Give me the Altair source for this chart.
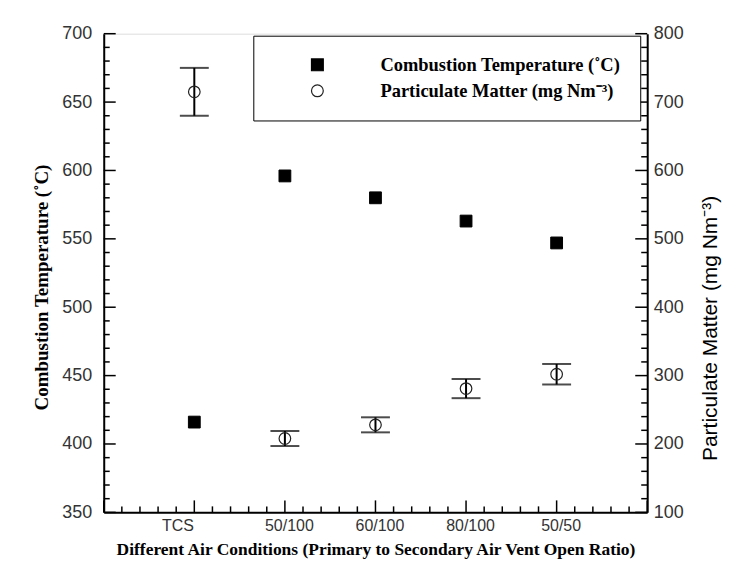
import json
import altair as alt
import pandas as pd

# ---- data ----
categories = ["TCS", "50/100", "60/100", "80/100", "50/50"]
positions = [1, 2, 3, 4, 5]
temperature = [416, 596, 580, 563, 547]          # deg C (left axis)
pm_mean = [715, 208, 228, 281, 302]              # mg Nm-3 (right axis)
pm_err = [35, 11, 11, 14, 15]

T_LABEL = "Combustion Temperature (˚C)"
PM_LABEL = "Particulate Matter (mg Nm⁻³)"
X_TITLE = "Different Air Conditions (Primary to Secondary Air Vent Open Ratio)"

temp_major = [350, 400, 450, 500, 550, 600, 650, 700]
temp_minor = [v for v in range(350, 701, 10) if v % 50]
pm_major = [100, 200, 300, 400, 500, 600, 700, 800]
pm_minor = [v for v in range(100, 801, 20) if v % 100]
x_major = [0, 1, 2, 3, 4, 5, 6]
x_minor = [i / 5 for i in range(0, 31) if i % 5]

W, H = 545, 480
MAJ, MIN = 12, 6

temp_df = pd.DataFrame({"pos": positions, "temp": temperature, "series": T_LABEL})
pm_df = pd.DataFrame({
    "pos": positions, "pm": pm_mean,
    "lo": [m - e for m, e in zip(pm_mean, pm_err)],
    "hi": [m + e for m, e in zip(pm_mean, pm_err)],
    "series": PM_LABEL,
})
caps_df = pd.DataFrame({
    "pos": positions + positions,
    "pm": [m - e for m, e in zip(pm_mean, pm_err)] + [m + e for m, e in zip(pm_mean, pm_err)],
})

label_arr = json.dumps([""] + categories + [""])

x_axis = alt.Axis(
    values=positions, labelExpr=f"{label_arr}[datum.value]", ticks=False, grid=False,
    title=X_TITLE, titleFont="Liberation Serif", titleFontWeight="bold", titleFontSize=17.5,
    titleColor="black", titlePadding=7,
    labelFont="Liberation Sans", labelFontSize=16, labelColor="#333", labelPadding=5,
    labelOffset={"condition": {"test": "datum.value == 1", "value": -17}, "value": 4},
    domainColor="black", domainWidth=2,
)
x_scale = alt.Scale(domain=[0, 6], nice=False, zero=False)


def X(field="pos"):
    return alt.X(f"{field}:Q", scale=x_scale, axis=x_axis)


temp_axis = alt.Axis(
    orient="left", values=temp_major, ticks=False, grid=False, title=T_LABEL,
    titleFont="Liberation Serif", titleFontWeight="bold", titleFontSize=19, titleColor="black",
    titleAngle=270, titleBaseline="middle", titleX=-62, titleY=254,
    labelFont="Liberation Sans", labelFontSize=18, labelColor="#333",
    labelPadding=12, domainColor="black", domainWidth=2,
)
temp_scale = alt.Scale(domain=[350, 700], nice=False, zero=False)


def YT(field="temp"):
    return alt.Y(f"{field}:Q", scale=temp_scale, axis=temp_axis)


pm_axis = alt.Axis(
    orient="right", values=pm_major, ticks=False, grid=False, title=PM_LABEL,
    titleFont="Liberation Sans", titleFontWeight="normal", titleFontSize=21, titleColor="black",
    titleAngle=270, titleBaseline="middle", titleX=63, titleY=295,
    labelFont="Liberation Sans", labelFontSize=18,
    labelColor="#333", labelPadding=6, domainColor="black", domainWidth=2,
)
pm_scale = alt.Scale(domain=[100, 800], nice=False, zero=False)


def YP(field="pm"):
    return alt.Y(f"{field}:Q", scale=pm_scale, axis=pm_axis)


legend = alt.Legend(
    title=None, orient="none", legendX=150, legendY=2, direction="vertical",
    fillColor="white", strokeColor="black", padding=20,
    labelFont="Liberation Serif", labelFontWeight="bold", labelFontSize=18.5, labelColor="black",
    symbolOffset=35, labelOffset=54, rowPadding=7, symbolSize=140, symbolStrokeWidth=1.2,
    labelLimit=400,
)
series_dom = [T_LABEL, PM_LABEL]
shape_enc = alt.Shape("series:N", scale=alt.Scale(domain=series_dom, range=["square", "circle"]), legend=legend)
fill_enc = alt.Fill("series:N", scale=alt.Scale(domain=series_dom, range=["black", "transparent"]), legend=legend)
stroke_enc = alt.Stroke("series:N", scale=alt.Scale(domain=series_dom, range=["black", "#222"]), legend=legend)

# ---- temperature (left) layer ----
temp_pts = alt.Chart(temp_df).mark_point(size=140, filled=False, strokeWidth=1, opacity=1).encode(
    x=X(), y=YT(), shape=shape_enc, fill=fill_enc, stroke=stroke_enc
)

def rule_layer(df, enc):
    return alt.Chart(df).mark_rule(color="black", strokeWidth=1.5).encode(**enc)

lt_major = rule_layer(pd.DataFrame({"temp": temp_major}), dict(y=YT(), x=alt.value(0), x2=alt.value(MAJ)))
lt_minor = rule_layer(pd.DataFrame({"temp": temp_minor}), dict(y=YT(), x=alt.value(0), x2=alt.value(MIN)))
bx_major = rule_layer(pd.DataFrame({"pos": x_major}), dict(x=X(), y=alt.value(H - MAJ), y2=alt.value(H)))
bx_minor = rule_layer(pd.DataFrame({"pos": x_minor}), dict(x=X(), y=alt.value(H - MIN), y2=alt.value(H)))

left_layer = alt.layer(lt_major, lt_minor, bx_major, bx_minor, temp_pts)

# ---- particulate matter (right) layer ----
err_rule = alt.Chart(pm_df).mark_rule(color="black", strokeWidth=2).encode(
    x=X(), y=YP("lo"), y2="hi:Q"
)
caps = alt.Chart(caps_df).mark_tick(color="black", size=29, thickness=2, orient="horizontal").encode(
    x=X(), y=YP()
)
pm_pts = alt.Chart(pm_df).mark_point(size=135, filled=False, strokeWidth=1.2, opacity=1).encode(
    x=X(), y=YP(), shape=shape_enc, fill=fill_enc, stroke=stroke_enc
)
rp_major = rule_layer(pd.DataFrame({"pm": pm_major}), dict(y=YP(), x=alt.value(W - MAJ), x2=alt.value(W)))
rp_minor = rule_layer(pd.DataFrame({"pm": pm_minor}), dict(y=YP(), x=alt.value(W - MIN), x2=alt.value(W)))

right_layer = alt.layer(rp_major, rp_minor, err_rule, caps, pm_pts)

chart = (
    alt.layer(left_layer, right_layer)
    .resolve_scale(y="independent")
    .properties(width=W, height=H, padding={"left": 25, "top": 16, "right": 2, "bottom": 0})
    .configure_view(stroke="black", strokeWidth=2)
    .configure_legend(strokeWidth=2.5)
    .configure(background="white")
)

chart.save("out.html", embed_options={"renderer": "svg", "actions": False})
